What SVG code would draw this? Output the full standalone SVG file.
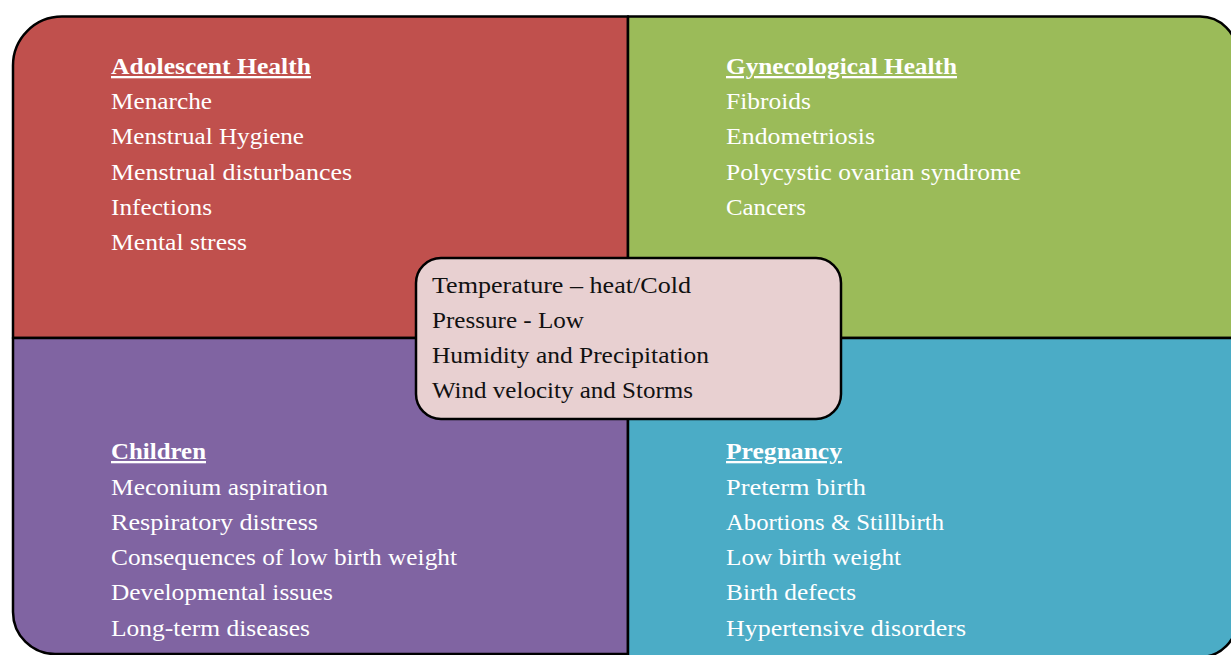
<svg xmlns="http://www.w3.org/2000/svg" width="1231" height="655" viewBox="0 0 1231 655">
  <style>
    .quad { stroke: #000; stroke-width: 2.5; stroke-linejoin: round; }
    .t { font-family: "Liberation Serif", "DejaVu Serif", serif; font-size: 23px; fill: #fff; }
    .h { font-weight: bold; text-decoration: underline; }
    .c { font-family: "Liberation Serif", "DejaVu Serif", serif; font-size: 23px; fill: #111; }
  </style>
  <rect width="1231" height="655" fill="#fff"/>

  <g id="adolescent-health">
    <path class="quad" fill="#C0504D" stroke-width="3.5" d="M13,66 A49,49 0 0 1 62,16.5 L628,16.5 L628,338 L13,338 Z"/>
    <text class="t h" x="111" y="74" textLength="200" lengthAdjust="spacingAndGlyphs">Adolescent Health</text>
    <text class="t" x="111" y="109" textLength="101" lengthAdjust="spacingAndGlyphs">Menarche</text>
    <text class="t" x="111" y="144" textLength="193" lengthAdjust="spacingAndGlyphs">Menstrual Hygiene</text>
    <text class="t" x="111" y="180" textLength="241" lengthAdjust="spacingAndGlyphs">Menstrual disturbances</text>
    <text class="t" x="111" y="215" textLength="101" lengthAdjust="spacingAndGlyphs">Infections</text>
    <text class="t" x="111" y="250" textLength="136" lengthAdjust="spacingAndGlyphs">Mental stress</text>
  </g>

  <g id="gynecological-health">
    <path class="quad" fill="#9BBB59" d="M628,16.5 L1200,16.5 A37,37 0 0 1 1237,53.5 L1237,338 L628,338 Z"/>
    <text class="t h" x="726" y="74" textLength="231" lengthAdjust="spacingAndGlyphs">Gynecological Health</text>
    <text class="t" x="726" y="109" textLength="85" lengthAdjust="spacingAndGlyphs">Fibroids</text>
    <text class="t" x="726" y="144" textLength="149" lengthAdjust="spacingAndGlyphs">Endometriosis</text>
    <text class="t" x="726" y="180" textLength="295" lengthAdjust="spacingAndGlyphs">Polycystic ovarian syndrome</text>
    <text class="t" x="726" y="215" textLength="80" lengthAdjust="spacingAndGlyphs">Cancers</text>
  </g>

  <g id="children">
    <path class="quad" fill="#8064A2" d="M13,338 L628,338 L628,654 L55,654 A42,42 0 0 1 13,612 Z"/>
    <text class="t h" x="111" y="459" textLength="95" lengthAdjust="spacingAndGlyphs">Children</text>
    <text class="t" x="111" y="495" textLength="217" lengthAdjust="spacingAndGlyphs">Meconium aspiration</text>
    <text class="t" x="111" y="530" textLength="207" lengthAdjust="spacingAndGlyphs">Respiratory distress</text>
    <text class="t" x="111" y="565" textLength="346" lengthAdjust="spacingAndGlyphs">Consequences of low birth weight</text>
    <text class="t" x="111" y="600" textLength="222" lengthAdjust="spacingAndGlyphs">Developmental issues</text>
    <text class="t" x="111" y="636" textLength="199" lengthAdjust="spacingAndGlyphs">Long-term diseases</text>
  </g>

  <g id="pregnancy">
    <path class="quad" fill="#4BACC6" d="M628,338 L1237,338 L1237,620 A37,37 0 0 1 1200,657 L628,657 Z"/>
    <text class="t h" x="726" y="459" textLength="116" lengthAdjust="spacingAndGlyphs">Pregnancy</text>
    <text class="t" x="726" y="495" textLength="140" lengthAdjust="spacingAndGlyphs">Preterm birth</text>
    <text class="t" x="726" y="530" textLength="218" lengthAdjust="spacingAndGlyphs">Abortions &amp; Stillbirth</text>
    <text class="t" x="726" y="565" textLength="175" lengthAdjust="spacingAndGlyphs">Low birth weight</text>
    <text class="t" x="726" y="600" textLength="130" lengthAdjust="spacingAndGlyphs">Birth defects</text>
    <text class="t" x="726" y="636" textLength="240" lengthAdjust="spacingAndGlyphs">Hypertensive disorders</text>
  </g>

  <g id="climate-factors">
    <rect x="416" y="258" width="425" height="161" rx="25" ry="25" fill="#E8D0D1" stroke="#000" stroke-width="2.5"/>
    <text class="c" x="432" y="293" textLength="259" lengthAdjust="spacingAndGlyphs">Temperature – heat/Cold</text>
    <text class="c" x="432" y="328" textLength="152" lengthAdjust="spacingAndGlyphs">Pressure - Low</text>
    <text class="c" x="432" y="363" textLength="277" lengthAdjust="spacingAndGlyphs">Humidity and Precipitation</text>
    <text class="c" x="432" y="398" textLength="261" lengthAdjust="spacingAndGlyphs">Wind velocity and Storms</text>
  </g>

  <g id="connectors"></g>
</svg>
